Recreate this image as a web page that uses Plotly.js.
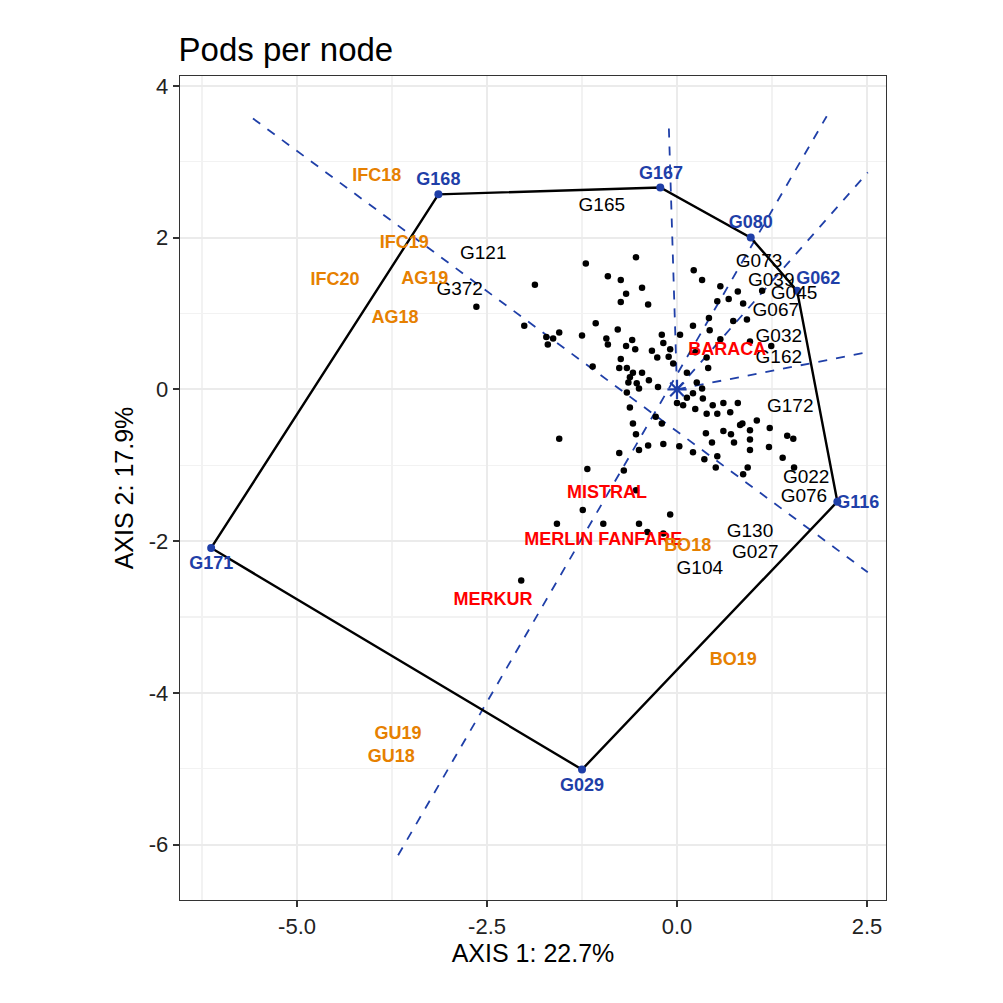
<!DOCTYPE html>
<html><head><meta charset="utf-8">
<script src="https://cdn.plot.ly/plotly-3.0.1.min.js"></script>
<style>body{margin:0;background:#fff}#c{width:1003px;height:1003px}</style>
</head><body><div id="c"></div>
<script>
// unlabeled genotype points
const ptX = [-1.20,-0.54,-1.87,-0.91,-0.74,-0.46,-0.67,-0.74,-0.38,0.22,0.33,0.57,0.80,0.68,0.53,0.87,1.12,-2.01,-1.07,-1.72,-1.63,-1.55,-1.70,-1.25,-0.78,-0.93,-0.91,-0.67,-0.59,-0.55,-0.74,-1.11,-0.20,-0.18,-0.33,-0.26,-0.09,-0.11,0.04,0.21,0.42,0.43,0.57,0.74,0.92,0.96,1.24,0.24,0.39,-0.76,-0.66,-0.58,-0.46,-0.62,-0.53,-0.64,-0.37,-0.25,-0.05,0.13,0.41,-0.66,-0.50,-0.62,0.00,0.13,0.21,0.33,0.26,0.34,0.47,0.61,0.53,0.70,0.80,0.39,0.24,0.08,1.05,0.96,0.86,0.83,1.22,1.45,1.53,-0.58,-0.28,-0.20,-0.54,0.38,0.61,0.71,0.46,0.75,0.96,0.96,1.21,1.39,-1.55,-0.76,-0.38,-0.50,-0.18,0.03,0.21,0.36,0.53,0.51,0.93,1.54,-1.18,-0.70,0.87,-0.54,-1.24,-1.58,-0.97,-0.50,-0.09,-0.39,-0.18,-2.05,-2.64];
const ptY = [1.66,1.74,1.38,1.49,1.44,1.34,1.26,1.15,1.12,1.57,1.44,1.36,1.29,1.19,1.16,1.13,1.30,0.84,0.87,0.69,0.67,0.75,0.59,0.71,0.79,0.67,0.59,0.57,0.65,0.53,0.40,0.30,0.72,0.61,0.51,0.42,0.53,0.43,0.72,0.84,0.94,0.78,0.66,0.90,0.92,0.63,0.57,0.49,0.42,0.28,0.28,0.22,0.22,0.16,0.08,0.09,0.12,0.03,0.34,0.22,0.28,-0.04,0.01,-0.24,-0.18,-0.11,-0.05,0.01,0.09,-0.12,-0.21,-0.18,-0.32,-0.30,-0.18,-0.32,-0.26,-0.21,-0.41,-0.54,-0.45,-0.47,-0.51,-0.61,-0.65,-0.45,-0.36,-0.45,-0.59,-0.58,-0.55,-0.59,-0.70,-0.70,-0.66,-0.80,-0.76,-0.90,-0.65,-0.84,-0.74,-0.80,-0.72,-0.75,-0.83,-0.92,-0.88,-1.03,-1.03,-1.03,-1.05,-1.07,-1.12,-1.33,-1.59,-1.77,-1.77,-1.77,-1.65,-1.88,-1.90,-2.52,1.09];
// labeled genotypes
const genoLab = ["G165","G121","G372","G073","G039","G045","G067","G032","G162","G172","G022","G076","G130","G027","G104"];
const genoX = [-0.99,-2.55,-2.86,1.08,1.24,1.54,1.30,1.34,1.34,1.49,1.70,1.67,0.96,1.03,0.30];
const genoY = [2.41,1.78,1.30,1.67,1.42,1.25,1.03,0.69,0.41,-0.24,-1.17,-1.42,-1.88,-2.16,-2.37];
// hull vertices
const vertLab = ["G168","G167","G080","G062","G116","G029","G171"];
const vertX = [-3.14,-0.22,0.97,1.58,2.11,-1.25,-6.13];
const vertY = [2.57,2.66,2.00,1.30,-1.48,-5.01,-2.09];
const vertLabX = [-3.14,-0.21,0.97,1.86,2.38,-1.25,-6.13];
const vertLabY = [2.75,2.83,2.19,1.45,-1.50,-5.23,-2.31];
// environments
const envRedLab = ["BARACA","MISTRAL","MERLIN FANFARE","MERKUR"];
const envRedX = [0.66,-0.92,-0.97,-2.42];
const envRedY = [0.51,-1.37,-1.99,-2.78];
const envOrLab = ["IFC18","IFC19","IFC20","AG19","AG18","BO18","BO19","GU19","GU18"];
const envOrX = [-3.95,-3.59,-4.50,-3.32,-3.71,0.14,0.74,-3.67,-3.76];
const envOrY = [2.81,1.92,1.44,1.45,0.94,-2.07,-3.57,-4.55,-4.85];
// sector rays (end points)
const rayX0 = [-5.58,0,-3.67,0,0];
const rayY0 = [3.57,0,-6.14,0,0];
const rayX1 = [2.51,-0.11,1.97,2.51,2.51];
const rayY1 = [-2.41,3.54,3.60,2.86,0.49];

const F = "Liberation Sans, Arial, sans-serif";
const traces = [];
for (let i=0;i<rayX0.length;i++) traces.push({x:[rayX0[i],rayX1[i]],y:[rayY0[i],rayY1[i]],mode:'lines',line:{color:'#1f3fa8',width:1.8,dash:'dash'},hoverinfo:'skip'});
traces.push({x:vertX.concat([vertX[0]]),y:vertY.concat([vertY[0]]),mode:'lines',line:{color:'#000',width:2.4}});
traces.push({x:ptX,y:ptY,mode:'markers',marker:{color:'#000',size:6.5}});
traces.push({x:[0],y:[0],mode:'markers',marker:{symbol:'asterisk-open',color:'#1f3fa8',size:16,line:{width:2.2,color:'#1f3fa8'}}});
traces.push({x:vertX,y:vertY,mode:'markers',marker:{color:'#1f3fa8',size:8}});
traces.push({x:genoX,y:genoY,mode:'text',text:genoLab,textfont:{family:F,size:19,color:'#000'}});
traces.push({x:envRedX,y:envRedY,mode:'text',text:envRedLab.map(s=>'<b>'+s+'</b>'),textfont:{family:F,size:18,color:'#ff0000'}});
traces.push({x:envOrX,y:envOrY,mode:'text',text:envOrLab.map(s=>'<b>'+s+'</b>'),textfont:{family:F,size:18,color:'#e68000'}});
traces.push({x:vertLabX,y:vertLabY,mode:'text',text:vertLab.map(s=>'<b>'+s+'</b>'),textfont:{family:F,size:18,color:'#1f3fa8'}});

const ax = {showline:true,mirror:true,linecolor:'#333',linewidth:1.3,ticks:'outside',ticklen:6,tickwidth:2,tickcolor:'#333',tickfont:{family:F,size:22,color:'#222'},gridcolor:'#ebebeb',gridwidth:2.2,zeroline:false};
Plotly.newPlot('c',traces,{
  width:1003,height:1003,showlegend:false,plot_bgcolor:'#fff',paper_bgcolor:'#fff',
  margin:{l:180,r:117,t:76,b:103},
  title:{text:'Pods per node',x:0.178,xanchor:'left',y:0.962,font:{family:F,size:33,color:'#000'}},
  xaxis:Object.assign({},ax,{range:[-6.54,2.75],tickvals:[-5,-2.5,0,2.5],ticktext:['-5.0','-2.5','0.0','2.5'],minor:{tickvals:[-6.25,-3.75,-1.25,1.25],showgrid:true,gridcolor:'#f2f2f2',gridwidth:1.1,ticks:''},title:{text:'AXIS 1: 22.7%',font:{family:F,size:25,color:'#000'},standoff:6}}),
  yaxis:Object.assign({},ax,{range:[-6.73,4.13],tickvals:[-6,-4,-2,0,2,4],ticktext:['-6','-4','-2','0','2','4'],minor:{tickvals:[-7,-5,-3,-1,1,3],showgrid:true,gridcolor:'#f2f2f2',gridwidth:1.1,ticks:''},title:{text:'AXIS 2: 17.9%',font:{family:F,size:25,color:'#000'},standoff:8}})
},{staticPlot:true});
</script></body></html>
